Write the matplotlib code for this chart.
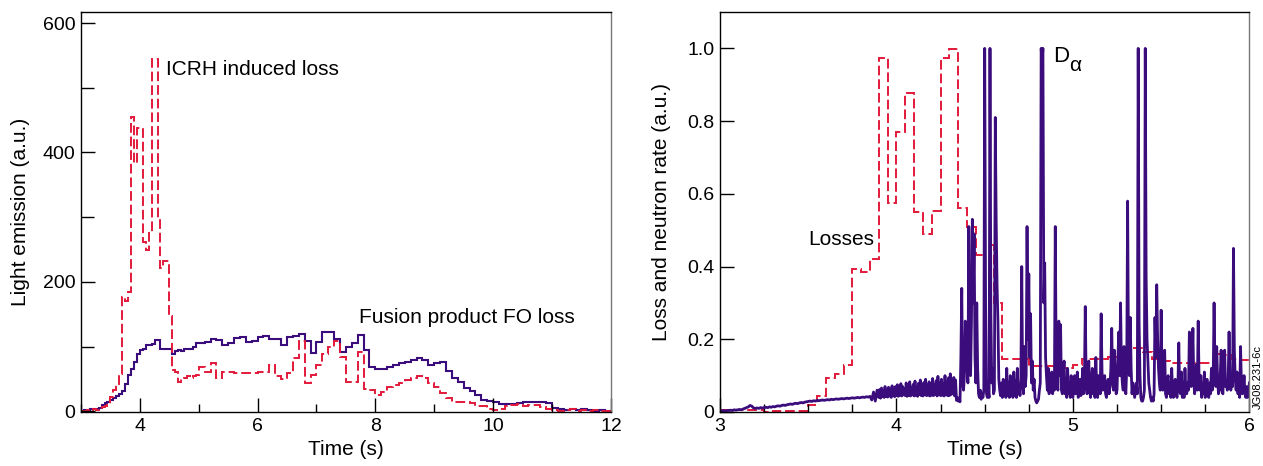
import numpy as np
import matplotlib
matplotlib.use('Agg')
import matplotlib.pyplot as plt
from matplotlib.ticker import FixedLocator, MultipleLocator, FuncFormatter

plt.rcParams['font.family'] = ['Liberation Sans', 'DejaVu Sans']

RED = '#e3193b'
PURPLE = '#3b0c7c'

# ---------------- Left panel data (light emission, a.u.) ----------------
# bin edges: 0.05 s bins from 3.0 to 5.0, then 0.1 s bins up to 12.0
edges_left = np.concatenate([np.round(np.linspace(3.0, 4.95, 40), 2),
                             np.round(np.linspace(5.0, 12.0, 71), 2)])

icrh_loss = [1, 0, 2, 1, 3, 2, 4, 6, 9, 12,
             22, 33, 40, 58, 176, 170, 184, 455, 384, 438,
             438, 262, 250, 276, 545, 545, 297, 222, 232, 232,
             148, 64, 61, 46, 50, 52, 55, 52, 54, 56,
             69, 61, 75, 52, 61, 61, 60, 60, 59, 60,
             61, 61, 72, 55, 50, 60, 82, 108, 44, 56,
             71, 88, 100, 108, 84, 46, 45, 92, 35, 33,
             25, 30, 37, 40, 44, 48, 52, 55, 51, 44,
             38, 28, 20, 15, 15, 14, 13, 9, 8, 3,
             2, 3, 9, 10, 11, 9, 10, 10, 6, 4,
             2, 1, 2, 3, 1, 2, 1, 2, 1, 0]

fo_loss = [1, 2, 2, 3, 4, 3, 5, 10, 13, 14,
           18, 20, 24, 27, 32, 42, 56, 66, 76, 88,
           95, 97, 102, 103, 104, 110, 110, 97, 97, 97,
           96, 88, 94, 95, 94, 96, 97, 97, 100, 105,
           105, 107, 112, 110, 102, 105, 114, 115, 107, 108,
           115, 116, 112, 112, 102, 115, 116, 120, 108, 90,
           107, 123, 123, 112, 92, 100, 106, 118, 95, 69,
           65, 66, 69, 72, 75, 77, 80, 82, 79, 71,
           74, 77, 63, 52, 45, 36, 32, 25, 18, 16,
           15, 11, 11, 11, 13, 15, 14, 14, 14, 13,
           5, 4, 2, 3, 2, 3, 2, 1, 2, 1]

# ---------------- Right panel data ----------------
edges_right = np.round(np.linspace(3.0, 6.0, 61), 2)
losses = [0.005, 0.005, 0.005, 0.005, 0.005, 0.0, 0.004, 0.004, 0.003, 0.003,
          0.02, 0.043, 0.093, 0.104, 0.129, 0.394, 0.385, 0.42, 0.974, 0.574,
          0.771, 0.876, 0.549, 0.489, 0.552, 0.974, 0.999, 0.562, 0.508, 0.433,
          0.459, 0.30, 0.147, 0.147, 0.147, 0.127, 0.127, 0.127, 0.12, 0.12,
          0.128, 0.145, 0.145, 0.146, 0.151, 0.151, 0.176, 0.177, 0.165, 0.147,
          0.14, 0.134, 0.134, 0.134, 0.134, 0.134, 0.16, 0.157, 0.145, 0.142]

# D-alpha signal: 10 ms samples from 3.00 to 3.89 s ...
t_dalpha_slow = np.linspace(3.0, 3.89, 90)
dalpha_slow = [0.004, 0.003, 0.004, 0.003, 0.004, 0.004, 0.005, 0.004, 0.006, 0.005,
               0.006, 0.007, 0.006, 0.008, 0.010, 0.012, 0.014, 0.018, 0.016, 0.011,
               0.010, 0.011, 0.010, 0.012, 0.011, 0.012, 0.013, 0.012, 0.014, 0.013,
               0.015, 0.014, 0.016, 0.017, 0.016, 0.018, 0.019, 0.018, 0.020, 0.021,
               0.022, 0.021, 0.023, 0.024, 0.023, 0.025, 0.026, 0.025, 0.027, 0.028,
               0.029, 0.030, 0.029, 0.031, 0.030, 0.032, 0.031, 0.032, 0.033, 0.032,
               0.033, 0.034, 0.033, 0.035, 0.034, 0.035, 0.036, 0.035, 0.036, 0.037,
               0.036, 0.037, 0.038, 0.037, 0.038, 0.039, 0.038, 0.039, 0.040, 0.039,
               0.040, 0.041, 0.040, 0.042, 0.041, 0.043, 0.033, 0.055, 0.030, 0.060]
# ... and 5 ms samples from 3.90 to 6.00 s (one row = 0.1 s)
t_dalpha_fast = np.linspace(3.9, 6.0, 421)
dalpha_fast = [
    0.040, 0.062, 0.038, 0.066, 0.042, 0.058, 0.040, 0.070, 0.043, 0.060, 0.041, 0.068, 0.044, 0.063, 0.040, 0.072, 0.045, 0.061, 0.042, 0.070,
    0.045, 0.075, 0.043, 0.066, 0.046, 0.078, 0.044, 0.070, 0.047, 0.064, 0.045, 0.080, 0.043, 0.071, 0.046, 0.083, 0.044, 0.068, 0.047, 0.076,
    0.044, 0.085, 0.046, 0.070, 0.043, 0.079, 0.048, 0.088, 0.045, 0.072, 0.044, 0.081, 0.047, 0.090, 0.045, 0.074, 0.046, 0.083, 0.044, 0.077,
    0.046, 0.092, 0.045, 0.076, 0.048, 0.086, 0.044, 0.098, 0.047, 0.080, 0.045, 0.090, 0.046, 0.078, 0.044, 0.100, 0.047, 0.083, 0.045, 0.094,
    0.045, 0.105, 0.048, 0.082, 0.050, 0.095, 0.044, 0.088, 0.032, 0.040, 0.030, 0.038, 0.028, 0.150, 0.340, 0.080, 0.060, 0.100, 0.250, 0.170,
    0.120, 0.080, 0.510, 0.200, 0.100, 0.250, 0.530, 0.300, 0.490, 0.150, 0.080, 0.300, 0.120, 0.050, 0.040, 0.060, 0.035, 0.050, 0.040, 0.060,
    1.000, 0.300, 0.050, 0.040, 0.060, 0.040, 1.000, 0.270, 0.080, 0.120, 0.050, 0.060, 0.810, 0.530, 0.350, 0.250, 0.090, 0.060, 0.045, 0.080,
    0.040, 0.090, 0.050, 0.070, 0.040, 0.120, 0.045, 0.080, 0.040, 0.100, 0.050, 0.070, 0.040, 0.110, 0.045, 0.085, 0.040, 0.120, 0.050, 0.075,
    0.045, 0.090, 0.400, 0.080, 0.050, 0.180, 0.070, 0.100, 0.510, 0.200, 0.380, 0.150, 0.270, 0.080, 0.140, 0.060, 0.090, 0.040, 0.030, 0.025,
    0.030, 0.035, 0.060, 0.080, 1.000, 0.960, 1.000, 0.300, 0.410, 0.150, 0.100, 0.060, 0.120, 0.050, 0.100, 0.060, 0.110, 0.050, 0.090, 0.060,
    0.510, 0.150, 0.080, 0.060, 0.250, 0.100, 0.240, 0.060, 0.050, 0.100, 0.140, 0.050, 0.090, 0.040, 0.120, 0.050, 0.080, 0.040, 0.100, 0.045,
    0.040, 0.080, 0.100, 0.050, 0.060, 0.110, 0.040, 0.070, 0.090, 0.045, 0.060, 0.120, 0.050, 0.080, 0.290, 0.090, 0.050, 0.100, 0.140, 0.060,
    0.040, 0.090, 0.120, 0.050, 0.070, 0.040, 0.150, 0.060, 0.040, 0.100, 0.080, 0.050, 0.270, 0.110, 0.060, 0.090, 0.100, 0.050, 0.040, 0.080,
    0.090, 0.050, 0.070, 0.120, 0.230, 0.080, 0.060, 0.170, 0.100, 0.050, 0.060, 0.150, 0.220, 0.100, 0.300, 0.120, 0.080, 0.060, 0.180, 0.070,
    0.050, 0.120, 0.580, 0.150, 0.100, 0.260, 0.120, 0.050, 0.080, 0.060, 0.040, 0.060, 0.080, 0.050, 1.000, 0.250, 0.100, 0.040, 0.030, 0.030,
    0.040, 0.060, 1.000, 0.370, 0.200, 0.140, 0.080, 0.060, 0.040, 0.030, 0.040, 0.030, 0.050, 0.260, 0.150, 0.350, 0.200, 0.120, 0.080, 0.060,
    0.280, 0.100, 0.060, 0.120, 0.170, 0.050, 0.040, 0.090, 0.100, 0.050, 0.060, 0.040, 0.120, 0.050, 0.040, 0.080, 0.090, 0.050, 0.040, 0.070,
    0.190, 0.060, 0.050, 0.110, 0.040, 0.080, 0.040, 0.120, 0.060, 0.050, 0.080, 0.060, 0.220, 0.090, 0.070, 0.120, 0.230, 0.080, 0.050, 0.100,
    0.130, 0.060, 0.250, 0.090, 0.060, 0.100, 0.040, 0.070, 0.050, 0.110, 0.040, 0.060, 0.090, 0.050, 0.040, 0.080, 0.050, 0.120, 0.060, 0.090,
    0.300, 0.120, 0.070, 0.180, 0.090, 0.050, 0.060, 0.100, 0.170, 0.060, 0.050, 0.120, 0.170, 0.070, 0.080, 0.060, 0.090, 0.220, 0.100, 0.060,
    0.100, 0.070, 0.450, 0.170, 0.090, 0.060, 0.110, 0.050, 0.060, 0.040, 0.180, 0.080, 0.050, 0.060, 0.100, 0.050, 0.040, 0.070, 0.040, 0.050,
    0.080]

left_xticks = [4, 6, 8, 10, 12]
left_yticks = [0, 200, 400, 600]
right_xticks = [3, 4, 5, 6]
right_yticks = [0, 0.2, 0.4, 0.6, 0.8, 1.0]

# ---------------- Figure ----------------
fig = plt.figure(figsize=(12.63, 4.66), dpi=100)
ax1 = fig.add_axes([0.0641, 0.1159, 0.4196, 0.8583])
ax2 = fig.add_axes([0.5701, 0.1159, 0.4191, 0.8583])

dash = (0, (5, 2))

# Left panel
ax1.stairs(fo_loss, edges_left, baseline=None, color=PURPLE, lw=1.5)
ax1.stairs(icrh_loss, edges_left, baseline=None, color=RED, lw=1.4, linestyle=dash)
ax1.set_xlim(3, 12)
ax1.set_ylim(-1, 617)
ax1.xaxis.set_major_locator(FixedLocator(left_xticks))
ax1.xaxis.set_minor_locator(MultipleLocator(1))
ax1.yaxis.set_major_locator(FixedLocator(left_yticks))
ax1.yaxis.set_minor_locator(MultipleLocator(100))
ax1.set_xlabel('Time (s)', fontsize=15, labelpad=4)
ax1.set_ylabel('Light emission (a.u.)', fontsize=15, labelpad=9)
ax1.text(4.44, 528, 'ICRH induced loss', fontsize=15, ha='left', va='center')
ax1.text(7.715, 145, 'Fusion product FO loss', fontsize=15, ha='left', va='center')

# Right panel
t_dalpha = np.concatenate([t_dalpha_slow, t_dalpha_fast])
dalpha = np.concatenate([dalpha_slow, dalpha_fast])
ax2.stairs(losses, edges_right, baseline=None, color=RED, lw=1.4, linestyle=dash)
ax2.plot(t_dalpha, dalpha, color=PURPLE, lw=2.0)
ax2.set_xlim(3, 6)
ax2.set_ylim(0.0, 1.1)
ax2.xaxis.set_major_locator(FixedLocator(right_xticks))
ax2.xaxis.set_minor_locator(MultipleLocator(0.25))
ax2.yaxis.set_major_locator(FixedLocator(right_yticks))
ax2.yaxis.set_major_formatter(FuncFormatter(lambda v, p: '0' if abs(v) < 1e-9 else f'{v:.1f}'))
ax2.set_xlabel('Time (s)', fontsize=15, labelpad=4)
ax2.set_ylabel('Loss and neutron rate (a.u.)', fontsize=15, labelpad=12)
ax2.text(3.873, 0.474, 'Losses', fontsize=15, ha='right', va='center')
ax2.text(4.887, 0.978, 'D', fontsize=16, ha='left', va='center')
ax2.text(4.978, 0.952, 'α', fontsize=15, ha='left', va='center')

for ax in (ax1, ax2):
    ax.tick_params(axis='both', which='both', direction='in', top=False, right=False,
                   labelsize=14, width=1)
    ax.tick_params(axis='both', which='major', length=10, pad=4)
    ax.tick_params(axis='x', which='minor', length=6)
    for s in ('left', 'bottom', 'top'):
        ax.spines[s].set_color('black')
        ax.spines[s].set_linewidth(1.0)
    ax.spines['right'].set_color('#777777')
    ax.spines['right'].set_linewidth(1.0)

ax1.tick_params(axis='y', which='minor', length=9)
ax2.tick_params(axis='y', which='minor', length=0)

fig.text(0.9955, 0.19, 'JG08.231-6c', rotation=90, fontsize=8, ha='center', va='center')

fig.savefig('out.png', dpi=100)
